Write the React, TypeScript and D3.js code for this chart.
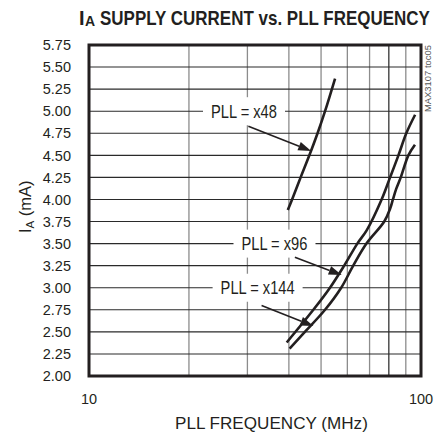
import React, { useEffect, useRef } from "react";
import * as d3 from "d3";

const W = 443;
const H = 439;
const margin = { top: 45, right: 22, bottom: 63, left: 89 };

// axis ticks
const yTicks = [2.0, 2.25, 2.5, 2.75, 3.0, 3.25, 3.5, 3.75, 4.0, 4.25, 4.5, 4.75, 5.0, 5.25, 5.5, 5.75];
const xGrid = [20, 30, 40, 50, 60, 70, 80, 90];
const xTickLabels = [10, 100];

// series (MHz, mA)
const pll48Freq = [39.7, 40.9, 43.4, 46.1, 48.8, 51.4, 55.1];
const pll48Current = [3.88, 4.0, 4.25, 4.5, 4.75, 5.0, 5.37];

const pll96Freq = [39.4, 47.4, 53.2, 58.7, 64.3, 68.6, 76.1, 80.7, 85.5, 90.3, 96.0];
const pll96Current = [2.38, 2.75, 3.0, 3.25, 3.5, 3.65, 4.0, 4.25, 4.5, 4.75, 4.96];

const pll144Freq = [40.2, 44.2, 51.4, 57.5, 62.5, 68.5, 77.5, 80.8, 82.3, 84.2, 86.9, 91.6, 95.9];
const pll144Current = [2.31, 2.48, 2.75, 3.0, 3.25, 3.5, 3.75, 3.9, 4.0, 4.12, 4.25, 4.5, 4.62];

const seriesNames = ["PLL = x48", "PLL = x96", "PLL = x144"];
// label centre, arrow tail and arrow tip in data units
const labelFreq = [29.3, 36.2, 32.2];
const labelCurrent = [5.0, 3.5, 3.0];
const tailFreq = [30.2, 41.7, 33.1];
const tailCurrent = [4.83, 3.345, 2.8];
const tipFreq = [46.7, 57.7, 47.4];
const tipCurrent = [4.55, 3.144, 2.566];

const FONT = "'Liberation Sans', Arial, sans-serif";
const INK = "#231f20";

export default function App() {
    const ref = useRef<SVGSVGElement>(null);

    useEffect(() => {
        const svg = d3.select(ref.current);
        svg.selectAll("*").remove();

        const x = d3
            .scaleLog()
            .domain([10, 100])
            .range([margin.left, W - margin.right]);
        const y = d3
            .scaleLinear()
            .domain([2, 5.75])
            .range([H - margin.bottom, margin.top]);

        // squeeze a text horizontally to a given width (condensed look)
        const condense = (t: any, x0: number, y0: number, width: number) => {
            const len = (t.node() as SVGTextElement).getComputedTextLength();
            t.attr("transform", `translate(${x0},${y0}) scale(${width / len},1)`);
        };

        // grid
        const grid = svg.append("g");
        grid.selectAll(".vg")
            .data(xGrid)
            .enter()
            .append("line")
            .attr("x1", d => x(d))
            .attr("x2", d => x(d))
            .attr("y1", y(2))
            .attr("y2", y(5.75))
            .attr("stroke", d => (d === 80 ? "#333" : "#8c8c8c"))
            .attr("stroke-width", 1.3);
        grid.selectAll(".hg")
            .data(yTicks)
            .enter()
            .append("line")
            .attr("x1", x(10))
            .attr("x2", x(100))
            .attr("y1", d => y(d))
            .attr("y2", d => y(d))
            .attr("stroke", "#2a2a2a")
            .attr("stroke-width", 1.1);

        // y tick labels
        svg.append("g")
            .selectAll("text")
            .data(yTicks)
            .enter()
            .append("text")
            .attr("x", 71)
            .attr("y", d => y(d))
            .attr("dy", "0.36em")
            .attr("text-anchor", "end")
            .attr("font-family", FONT)
            .attr("font-size", 14.5)
            .attr("fill", INK)
            .text(d => d.toFixed(2));

        // x tick labels
        svg.append("g")
            .selectAll("text")
            .data(xTickLabels)
            .enter()
            .append("text")
            .attr("x", d => x(d))
            .attr("y", 404)
            .attr("text-anchor", "middle")
            .attr("font-family", FONT)
            .attr("font-size", 14.5)
            .attr("fill", INK)
            .text(d => String(d));

        // annotation label boxes (white, interrupt the grid)
        const labelWidths = [66, 66, 74];
        const labels = svg.append("g");
        seriesNames.forEach((name, i) => {
            const cx = x(labelFreq[i]);
            const cy = y(labelCurrent[i]);
            const w = labelWidths[i];
            labels
                .append("rect")
                .attr("x", cx - w / 2 - 8)
                .attr("y", cy - 14)
                .attr("width", w + 16)
                .attr("height", 28)
                .attr("fill", "#fff");
            const t = labels
                .append("text")
                .attr("dy", "0.36em")
                .attr("font-family", FONT)
                .attr("font-size", 18)
                .attr("fill", INK)
                .text(name);
            condense(t, cx - w / 2, cy, w);
        });

        // curves
        const line = d3
            .line<[number, number]>()
            .x(d => x(d[0]))
            .y(d => y(d[1]))
            .curve(d3.curveCatmullRom.alpha(0.5));
        const series: [number[], number[]][] = [
            [pll48Freq, pll48Current],
            [pll96Freq, pll96Current],
            [pll144Freq, pll144Current],
        ];
        series.forEach(([f, c]) => {
            svg.append("path")
                .datum(f.map((v, k) => [v, c[k]] as [number, number]))
                .attr("d", line)
                .attr("fill", "none")
                .attr("stroke", INK)
                .attr("stroke-width", 2.6);
        });

        // arrows
        seriesNames.forEach((_, i) => {
            const x0 = x(tailFreq[i]);
            const y0 = y(tailCurrent[i]);
            const x1 = x(tipFreq[i]);
            const y1 = y(tipCurrent[i]);
            const ang = Math.atan2(y1 - y0, x1 - x0);
            const len = 13;
            const hw = 4.5;
            const bx = x1 - len * Math.cos(ang);
            const by = y1 - len * Math.sin(ang);
            svg.append("line")
                .attr("x1", x0)
                .attr("y1", y0)
                .attr("x2", bx)
                .attr("y2", by)
                .attr("stroke", INK)
                .attr("stroke-width", 1.6);
            const pts = [
                [x1, y1],
                [bx - hw * Math.sin(ang), by + hw * Math.cos(ang)],
                [bx + hw * Math.sin(ang), by - hw * Math.cos(ang)],
            ];
            svg.append("polygon")
                .attr("points", pts.map(p => p.join(",")).join(" "))
                .attr("fill", INK);
        });

        // frame
        svg.append("rect")
            .attr("x", x(10))
            .attr("y", y(5.75))
            .attr("width", x(100) - x(10))
            .attr("height", y(2) - y(5.75))
            .attr("fill", "none")
            .attr("stroke", INK)
            .attr("stroke-width", 3);

        // title: I with subscript A, then the rest
        const titleText = (size: number) =>
            svg
                .append("text")
                .attr("font-family", FONT)
                .attr("font-weight", "bold")
                .attr("font-size", size)
                .attr("fill", INK);
        titleText(20).attr("x", 79).attr("y", 25).text("I");
        titleText(14).attr("x", 85).attr("y", 26).text("A");
        condense(titleText(20).text("SUPPLY CURRENT vs. PLL FREQUENCY"), 100, 25, 330);

        // axis titles
        const xt = svg
            .append("text")
            .attr("font-family", FONT)
            .attr("font-size", 16.5)
            .attr("fill", INK)
            .text("PLL FREQUENCY (MHz)");
        condense(xt, 175, 429, 193);

        const yt = svg
            .append("text")
            .attr("transform", "translate(31,233) rotate(-90)")
            .attr("font-family", FONT)
            .attr("font-size", 16.5)
            .attr("fill", INK);
        yt.append("tspan").text("I");
        yt.append("tspan").attr("font-size", 11.5).attr("dy", 3).text("A");
        yt.append("tspan").attr("dy", -3).text(" (mA)");

        const note = svg
            .append("text")
            .attr("font-family", FONT)
            .attr("font-size", 8.5)
            .attr("fill", "#555")
            .text("MAX3107 toc05");
        const noteLen = (note.node() as SVGTextElement).getComputedTextLength();
        note.attr("transform", `translate(431,112) rotate(-90) scale(${67 / noteLen},1)`);
    }, []);

    return (
        <svg
            ref={ref}
            width={W}
            height={H}
            style={{ position: "absolute", left: 0, top: 0, background: "#fff" }}
        />
    );
}
